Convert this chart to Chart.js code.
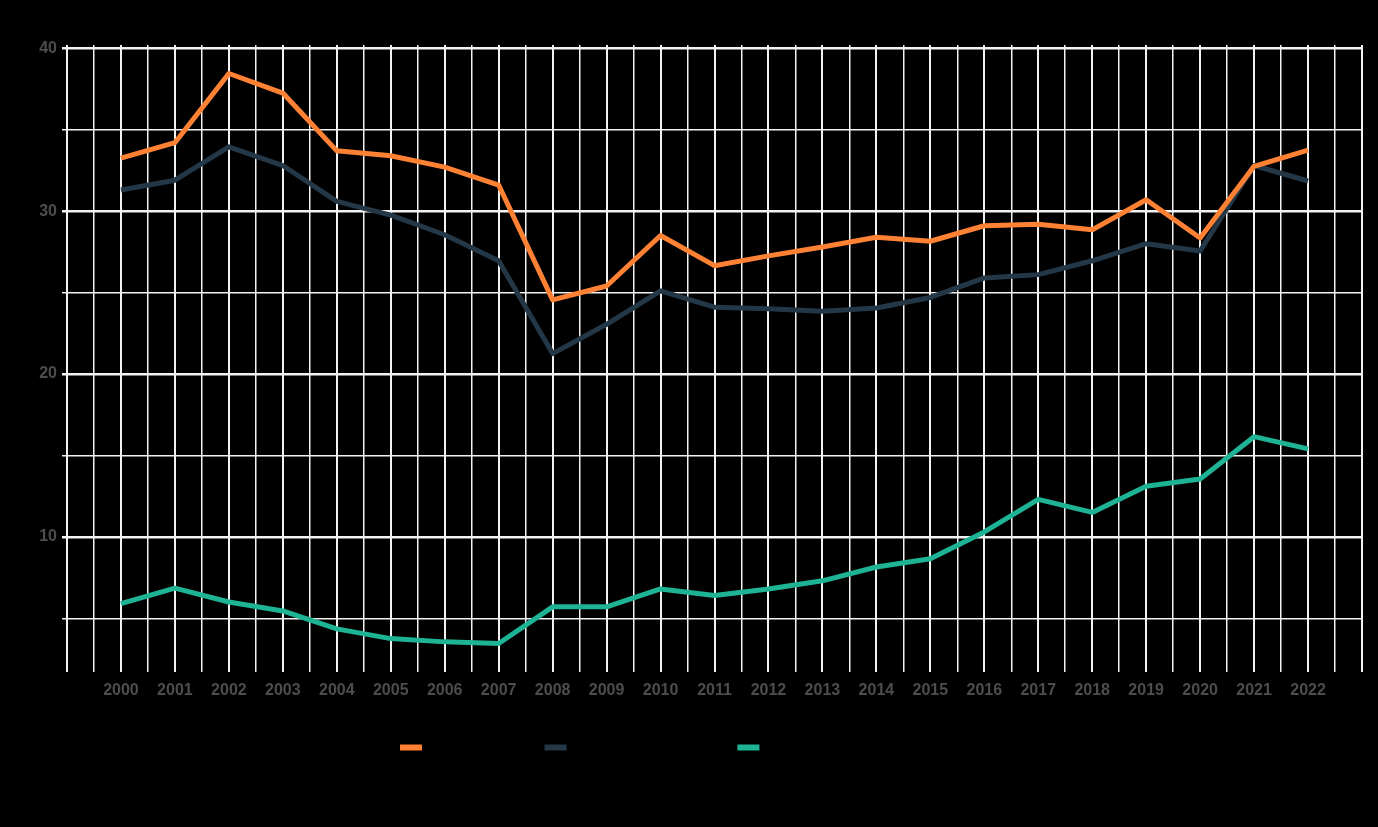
<!DOCTYPE html>
<html>
<head>
<meta charset="utf-8">
<script src="https://cdn.jsdelivr.net/npm/chart.js@4.4.1/dist/chart.umd.min.js"></script>
<style>
  html, body { margin: 0; padding: 0; background: #000; }
  #wrap { width: 1378px; height: 827px; }
</style>
</head>
<body>
<div id="wrap"><canvas id="lineChart"></canvas></div>
<script>
// --- Données ---
const years = [2000, 2001, 2002, 2003, 2004, 2005, 2006, 2007, 2008, 2009, 2010,
  2011, 2012, 2013, 2014, 2015, 2016, 2017, 2018, 2019, 2020, 2021, 2022];

const seriesNames = ['Series 1 (totals)', 'Series 2 (subgroups A)', 'Series 3 (subgroup B shares)'];

const orangeValues = [33.25, 34.2, 38.45, 37.25, 33.7, 33.4, 32.7, 31.6, 24.55, 25.4, 28.5,
  26.65, 27.25, 27.8, 28.4, 28.15, 29.1, 29.2, 28.85, 30.7, 28.35, 32.75, 33.75];

const darkValues = [31.3, 31.9, 33.95, 32.8, 30.6, 29.75, 28.55, 26.95, 21.25, 23.05, 25.1,
  24.1, 24.0, 23.85, 24.05, 24.7, 25.9, 26.1, 26.95, 28.0, 27.55, 32.8, 31.85];

const tealValues = [5.9, 6.85, 6.0, 5.45, 4.35, 3.75, 3.55, 3.45, 5.7, 5.7, 6.8,
  6.4, 6.8, 7.3, 8.15, 8.65, 10.3, 12.3, 11.5, 13.1, 13.55, 16.15, 15.4];

const yTicks = [5, 10, 15, 20, 25, 30, 35, 40];
const yLabels = [10, 20, 30, 40];

const colors = ['#ff8133', '#243746', '#1db394'];

// --- Graphique ---
const toPoints = vals => vals.map((v, i) => ({ x: years[i], y: v }));

const xGrid = [];
for (let t = years[0] - 1; t <= years[years.length - 1] + 1; t += 0.5) xGrid.push(t);

const tickFont = { family: 'Liberation Sans, Arial, sans-serif', size: 16, weight: 'bold' };

new Chart(document.getElementById('lineChart').getContext('2d'), {
  type: 'line',
  data: {
    datasets: [orangeValues, darkValues, tealValues].map((vals, i) => ({
      label: seriesNames[i],
      data: toPoints(vals),
      borderColor: colors[i],
      backgroundColor: colors[i],
      borderWidth: 5,
      pointRadius: 0,
      tension: 0,
      borderJoinStyle: 'round'
    }))
  },
  options: {
    responsive: true,
    maintainAspectRatio: false,
    animation: false,
    layout: { padding: { top: 45, right: 16, left: 0, bottom: 62 } },
    plugins: {
      title: { display: false },
      tooltip: { enabled: false },
      legend: {
        position: 'bottom',
        labels: {
          boxWidth: 22,
          boxHeight: 6,
          padding: 10,
          color: '#000',
          font: { family: 'Liberation Sans, Arial, sans-serif', size: 15 },
          generateLabels: chart => Chart.defaults.plugins.legend.labels.generateLabels(chart)
            .map(item => Object.assign(item, { lineWidth: 0, strokeStyle: item.fillStyle }))
        }
      }
    },
    scales: {
      x: {
        type: 'linear',
        min: years[0] - 1,
        max: years[years.length - 1] + 1,
        afterBuildTicks: s => { s.ticks = xGrid.map(v => ({ value: v })); },
        afterFit: s => { s.height = 58; },
        border: { display: false },
        grid: {
          color: '#f2f2f2',
          lineWidth: c => (Number.isInteger(c.tick.value) ? 2 : 1.5),
          drawTicks: false
        },
        ticks: {
          autoSkip: false,
          maxRotation: 0,
          padding: 9,
          color: '#4d4d4d',
          font: tickFont,
          callback: v => (Number.isInteger(v) && v >= years[0] && v <= years[years.length - 1] ? String(v) : '')
        }
      },
      y: {
        min: 1.7,
        max: 40.2,
        afterBuildTicks: s => { s.ticks = yTicks.map(v => ({ value: v })); },
        afterFit: s => { s.width = 67; },
        border: { display: false },
        grid: {
          color: '#f2f2f2',
          lineWidth: c => (yLabels.includes(c.tick.value) ? 2.5 : 1.5),
          tickLength: 5
        },
        ticks: {
          autoSkip: false,
          padding: 5,
          color: '#4d4d4d',
          font: tickFont,
          callback: v => (yLabels.includes(v) ? String(v) : '')
        }
      }
    }
  }
});
</script>
</body>
</html>
